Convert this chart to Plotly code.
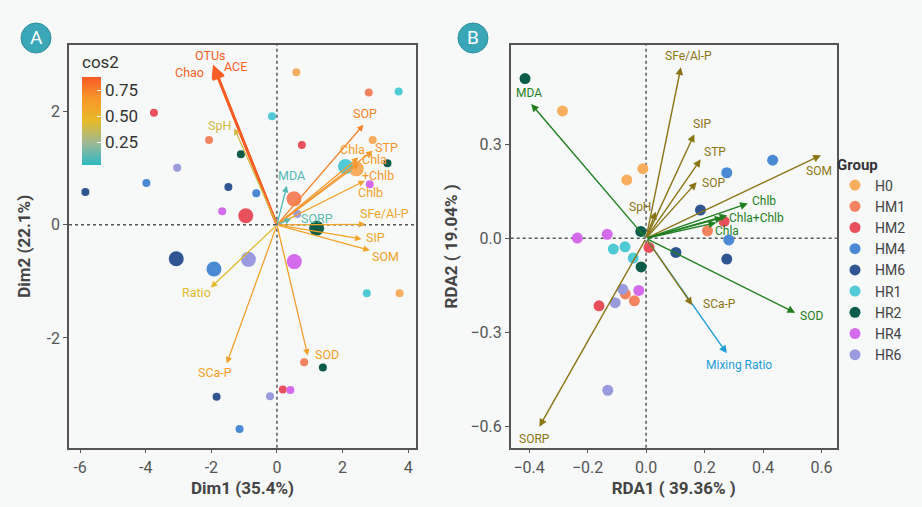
import plotly.graph_objects as go
from plotly.colors import sample_colorscale

groups = ["H0", "HM1", "HM2", "HM4", "HM6", "HR1", "HR2", "HR4", "HR6"]
group_colors = ["#F8AD5F", "#F4845F", "#E8505B", "#4A8AD4", "#2F5592",
                "#4FCAD6", "#0C5C4A", "#D56BEC", "#9A9ADF"]

# PCA individuals (3 per group, in group order)
pca_x = [[0.59, 2.92, 3.74], [2.80, -2.07, 0.83], [-3.75, 0.76, 0.18],
         [-3.98, -0.63, -1.14], [-5.84, -1.48, -1.84], [3.71, -0.15, 2.74],
         [-1.10, 3.37, 1.40], [2.83, -1.67, 0.41], [-3.04, 0.62, -0.21]]
pca_y = [[2.70, 1.50, -1.21], [2.34, 1.50, -2.43], [1.98, 1.41, -2.91],
         [0.74, 0.56, -3.61], [0.58, 0.67, -3.04], [2.36, 1.92, -1.21],
         [1.25, 1.09, -2.52], [0.72, 0.24, -2.92], [1.01, 0.19, -3.03]]
# group centroids (large points)
cent_x = [2.42, 0.52, -0.95, -1.92, -3.07, 2.09, 1.21, 0.53, -0.87]
cent_y = [0.99, 0.46, 0.16, -0.78, -0.60, 1.03, -0.06, -0.65, -0.61]

# PCA variables
pca_vars = ["OTUs", "Chao", "ACE", "SpH", "SOP", "STP", "Chla", "Chla<br>+Chlb", "Chlb",
            "MDA", "SORP", "SFe/Al-P", "SIP", "SOM", "SOD", "SCa-P", "Ratio"]
pca_vx = [-1.94, -1.92, -1.95, -1.30, 2.64, 2.92, 2.48, 2.50, 2.68,
          0.30, 0.43, 2.70, 2.58, 2.83, 0.94, -1.53, -2.02]
pca_vy = [2.82, 2.80, 2.83, 1.71, 1.77, 1.31, 1.19, 1.08, 0.78,
          0.69, 0.11, 0.01, -0.25, -0.45, -2.31, -2.45, -1.11]
cos2 = [0.86, 0.85, 0.86, 0.40, 0.74, 0.68, 0.66, 0.67, 0.60,
        0.10, 0.12, 0.58, 0.58, 0.60, 0.62, 0.62, 0.44]

# RDA samples
rda_x = [[-0.286, -0.011, -0.066], [0.210, -0.071, -0.040], [0.267, 0.010, -0.161],
         [0.433, 0.276, 0.283], [0.186, 0.102, 0.276], [-0.112, -0.072, -0.044],
         [-0.414, -0.018, -0.017], [-0.235, -0.133, -0.025], [-0.080, -0.106, -0.131]]
rda_y = [[0.406, 0.222, 0.186], [0.024, -0.177, -0.199], [0.054, -0.029, -0.215],
         [0.249, 0.209, -0.005], [0.090, -0.045, -0.066], [-0.034, -0.027, -0.063],
         [0.509, 0.022, -0.091], [0.001, 0.013, -0.166], [-0.162, -0.205, -0.484]]

# RDA arrows
rda_vars = ["Mixing Ratio", "SFe/Al-P", "SIP", "STP", "SOP", "SOM", "SpH", "SCa-P", "SORP",
            "MDA", "Chlb", "Chla+Chlb", "", "Chla", "SOD"]
rda_vx = [0.276, 0.119, 0.165, 0.187, 0.173, 0.598, 0.033, 0.158, -0.365,
          -0.393, 0.348, 0.278, 0.262, 0.240, 0.510]
rda_vy = [-0.366, 0.545, 0.332, 0.252, 0.179, 0.265, 0.085, -0.213, -0.600,
          0.428, 0.111, 0.073, 0.066, 0.050, -0.237]
rda_kind = ["ratio", "soil", "soil", "soil", "soil", "soil", "soil", "soil", "soil",
            "bio", "bio", "bio", "bio", "bio", "bio"]

# label offsets in px (style only)
pca_shift = [(-3, 10), (-24, -6), (23, -2), (-15, 3), (1, 11), (14, 3), (-6, 8), (19, -4),
             (6, -12), (5, 10), (26, 0), (19, 11), (14, 2), (16, -6), (19, 1), (-12, -9), (-14, -5)]
rda_shift = [(12, -12), (8, 11), (8, 10), (14, 7), (17, -1), (-2, -16), (-16, 5), (27, 1),
             (-5, -12), (-2, 11), (16, 3), (29, -3), (0, 0), (11, -8), (16, -3)]
kind_color = {"soil": "#8B7414", "bio": "#1F7F1F", "ratio": "#1E9ED6"}

cscale = [[0, "#2DB9C4"], [0.25, "#9DB894"], [0.5, "#E6BA2A"], [0.75, "#F7982A"], [1, "#F65A26"]]
cmin, cmax = 0.03, 0.875

bg = "#F6F9F8"
fig = go.Figure()

# panel A points
for i, g in enumerate(groups):
    fig.add_trace(go.Scatter(x=pca_x[i], y=pca_y[i], mode="markers", xaxis="x", yaxis="y",
                             marker=dict(size=8, color=group_colors[i]), showlegend=False))
for i, g in enumerate(groups):
    fig.add_trace(go.Scatter(x=[cent_x[i]], y=[cent_y[i]], mode="markers", xaxis="x", yaxis="y",
                             marker=dict(size=15, color=group_colors[i]), showlegend=False))

# colorbar holder
fig.add_trace(go.Scatter(x=pca_vx, y=pca_vy, mode="markers", xaxis="x", yaxis="y",
                         marker=dict(size=1, opacity=0, color=cos2, colorscale=cscale,
                                     cmin=cmin, cmax=cmax, showscale=True,
                                     colorbar=dict(x=82 / 922, xanchor="left", xpad=0,
                                                   y=1 - 52 / 507, yanchor="top", ypad=0,
                                                   len=113 / 507, lenmode="fraction",
                                                   thickness=19, outlinewidth=0,
                                                   tickvals=[0.25, 0.5, 0.75],
                                                   ticktext=["0.25", "0.50", "0.75"],
                                                   ticks="inside", ticklen=4, tickcolor="white",
                                                   tickfont=dict(size=17, color="#333"),
                                                   title=dict(text="cos2", side="top",
                                                              font=dict(size=17, color="#333")))),
                         showlegend=False, hoverinfo="skip"))

# panel B points
for i, g in enumerate(groups):
    fig.add_trace(go.Scatter(x=rda_x[i], y=rda_y[i], mode="markers", xaxis="x2", yaxis="y2",
                             name=g, marker=dict(size=11, color=group_colors[i])))

anns = []
arrow_cols = sample_colorscale(cscale, [(c - cmin) / (cmax - cmin) for c in cos2])
for i, v in enumerate(pca_vars):
    w = 2.6 if i < 3 else 1.3
    anns.append(dict(x=pca_vx[i], y=pca_vy[i], ax=0, ay=0, xref="x", yref="y", axref="x", ayref="y",
                     showarrow=True, arrowhead=2, arrowsize=1, arrowwidth=w,
                     arrowcolor=arrow_cols[i], text=""))
for i, v in enumerate(pca_vars):
    anns.append(dict(x=pca_vx[i], y=pca_vy[i], xref="x", yref="y", text=v, showarrow=False,
                     xshift=pca_shift[i][0], yshift=pca_shift[i][1],
                     font=dict(size=12.5, color=arrow_cols[i]), align="left"))
for i, v in enumerate(rda_vars):
    c = kind_color[rda_kind[i]]
    anns.append(dict(x=rda_vx[i], y=rda_vy[i], ax=0, ay=0, xref="x2", yref="y2", axref="x2", ayref="y2",
                     showarrow=True, arrowhead=2, arrowsize=1.1, arrowwidth=1.4,
                     arrowcolor=c, text=""))
for i, v in enumerate(rda_vars):
    if v:
        anns.append(dict(x=rda_vx[i], y=rda_vy[i], xref="x2", yref="y2", text=v, showarrow=False,
                         xshift=rda_shift[i][0], yshift=rda_shift[i][1],
                         font=dict(size=12, color=kind_color[rda_kind[i]])))

# panel tags
for lab, cx in [("A", 36), ("B", 473)]:
    anns.append(dict(x=cx / 922, y=1 - 38 / 507, xref="paper", yref="paper", text=lab,
                     xanchor="center", yanchor="middle",
                     showarrow=False, font=dict(size=19, color="white")))

shapes = []
for cx in [36, 473]:
    shapes.append(dict(type="circle", xref="paper", yref="paper", layer="below",
                       x0=(cx - 15) / 922, x1=(cx + 15) / 922,
                       y0=1 - (38 + 15) / 507, y1=1 - (38 - 15) / 507,
                       fillcolor="#3AA7B9", line=dict(color="#2E8E9E", width=1)))
for xa, ya in [("x", "y"), ("x2", "y2")]:
    shapes.append(dict(type="line", xref=xa + " domain", yref=ya, x0=0, x1=1, y0=0, y1=0,
                       line=dict(color="#555", width=1.5, dash="dot"), layer="below"))
    shapes.append(dict(type="line", xref=xa, yref=ya + " domain", x0=0, x1=0, y0=0, y1=1,
                       line=dict(color="#555", width=1.5, dash="dot"), layer="below"))

axis_style = dict(showgrid=False, zeroline=False, showline=True, mirror=True,
                  linecolor="#555", linewidth=1.5, ticks="outside", ticklen=4, tickcolor="#555",
                  tickfont=dict(size=16, color="#555"))
title_font = dict(size=17, color="#444", family="Roboto")

fig.update_layout(
    width=922, height=507, margin=dict(l=0, r=0, t=0, b=0),
    paper_bgcolor=bg, plot_bgcolor=bg,
    font=dict(family="Roboto", color="#444"),
    xaxis=dict(domain=[69 / 922, 416 / 922], range=[-6.34, 4.24], anchor="y",
               tickvals=[-6, -4, -2, 0, 2, 4], ticktext=["-6", "-4", "-2", "0", "2", "4"],
               title=dict(text="<b>Dim1 (35.4%)</b>", font=title_font, standoff=6), **axis_style),
    yaxis=dict(domain=[1 - 447.7 / 507, 1 - 45 / 507], range=[-3.94, 3.18], anchor="x",
               tickvals=[-2, 0, 2], ticktext=["-2", "0", "2"],
               title=dict(text="<b>Dim2 (22.1%)</b>", font=title_font, standoff=12), **axis_style),
    xaxis2=dict(domain=[510.7 / 922, 836.7 / 922], range=[-0.463, 0.652], anchor="y2",
                tickvals=[-0.4, -0.2, 0, 0.2, 0.4, 0.6], tickformat=".1f",
                title=dict(text="<b>RDA1 ( 39.36% )</b>", font=title_font, standoff=6), **axis_style),
    yaxis2=dict(domain=[1 - 447.7 / 507, 1 - 45 / 507], range=[-0.667, 0.616], anchor="x2",
                tickvals=[-0.6, -0.3, 0, 0.3], tickformat=".1f",
                title=dict(text="<b>RDA2 ( 19.04% )</b>", font=title_font, standoff=8), **axis_style),
    legend=dict(x=835 / 922, y=1 - 150 / 507, xanchor="left", yanchor="top",
                title=dict(text="<b>Group</b>", font=dict(size=15, color="#333")),
                font=dict(size=14, color="#444"), tracegroupgap=0, itemwidth=30,
                bgcolor="rgba(0,0,0,0)"),
    annotations=anns, shapes=shapes,
)

fig.write_html("out.html", config={"displayModeBar": False},
               post_script="document.body.style.margin='0';")
